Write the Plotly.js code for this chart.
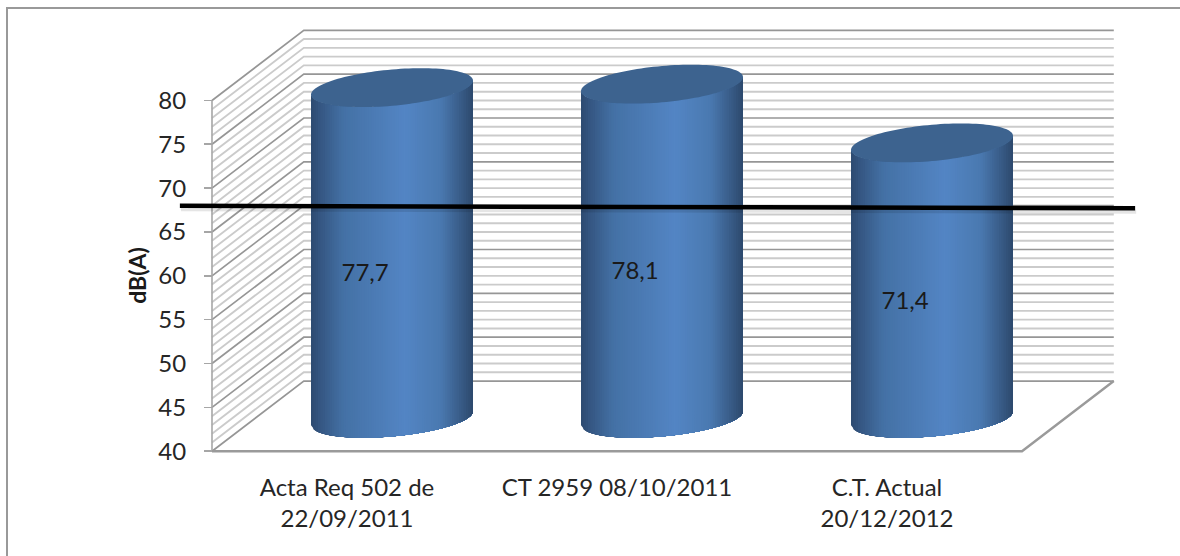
<!DOCTYPE html>
<html><head><meta charset="utf-8">
<script src="https://cdn.plot.ly/plotly-3.0.1.min.js"></script>
<style>
html,body{margin:0;padding:0;background:#fff;overflow:hidden}
#frame{position:absolute;left:6px;top:7px;right:-5px;bottom:-5px;border-left:2.5px solid #999;border-top:2.5px solid #999}
#chart{position:absolute;left:0;top:0;width:1180px;height:556px}
</style></head><body>
<div id="frame"></div><div id="chart"></div>
<script>
const categories = ["Acta Req 502 de<br>22/09/2011", "CT 2959 08/10/2011", "C.T. Actual<br>20/12/2012"];
const values = [77.7, 78.1, 71.4];
const valueLabels = ["77,7", "78,1", "71,4"];
const yTicks = [40, 45, 50, 55, 60, 65, 70, 75, 80];
const limitX = [-0.119, 3.419];
const limitY = [67.98, 67.7];

const FONT = "Lato, 'Open Sans', sans-serif";
const DEPTH_X = 0.34, DEPTH_Y = 8;
const MID_X = 1 / 6, MID_Y = 3.76;
const A = 0.3, SHEAR = 0.8, B = 2.07;
const stops = [[0,[45,74,112]],[0.05,[52,85,128]],[0.2,[68,113,165]],[0.58,[83,133,196]],[0.8,[74,121,176]],[0.94,[54,88,130]],[1,[44,72,108]]];
function shade(f){
  for(let i=1;i<stops.length;i++){
    if(f<=stops[i][0]){
      const p=(f-stops[i-1][0])/(stops[i][0]-stops[i-1][0]);
      const c=stops[i-1][1].map((v,k)=>Math.round(v+(stops[i][1][k]-v)*p));
      return `rgb(${c[0]},${c[1]},${c[2]})`;
    }
  }
  return 'rgb(44,72,108)';
}
const traces=[];
function line(x,y,color,width){
  traces.push({type:'scatter',mode:'lines',x,y,line:{color,width,simplify:false},hoverinfo:'skip',connectgaps:false});
}
// walls
const minorX=[],minorY=[],majorX=[],majorY=[];
const maxX=categories.length;
for(let v=40;v<=80;v++){
  const tx=v%5===0?majorX:minorX, ty=v%5===0?majorY:minorY;
  tx.push(0,DEPTH_X,maxX+DEPTH_X,null);
  ty.push(v,v+DEPTH_Y,v+DEPTH_Y,null);
}
line(minorX,minorY,'#cbcbcb',1.9);
line(majorX,majorY,'#969696',1.7);
line([0,0],[40,80],'#a6a6a6',1.6);
line([0,maxX,maxX+DEPTH_X],[40,40,40+DEPTH_Y],'#9a9a9a',2.4);

// cylinders
const N=70, ARC=40;
values.forEach((val,i)=>{
  const cx=i+0.5+MID_X, topY=val+MID_Y, botY=40+MID_Y;
  for(let s=0;s<N;s++){
    const f0=-1+2*s/N;
    const xs=[],ys=[];
    for(let k=0;k<=ARC;k++){
      const f=f0+(1-f0)*k/ARC;
      xs.push(cx+A*f); ys.push(topY+SHEAR*f-B*Math.sqrt(Math.max(0,1-f*f)));
    }
    for(let k=ARC;k>=0;k--){
      const f=f0+(1-f0)*k/ARC;
      xs.push(cx+A*f); ys.push(botY+SHEAR*f-B*Math.sqrt(Math.max(0,1-f*f)));
    }
    traces.push({type:'scatter',mode:'none',x:xs,y:ys,fill:'toself',fillcolor:shade((s+0.5)/N),hoverinfo:'skip'});
  }
  const ex=[],ey=[];
  for(let k=0;k<=120;k++){
    const t=2*Math.PI*k/120;
    ex.push(cx+A*Math.cos(t)); ey.push(topY+SHEAR*Math.cos(t)+B*Math.sin(t));
  }
  traces.push({type:'scatter',mode:'none',x:ex,y:ey,fill:'toself',fillcolor:'#3d638f',hoverinfo:'skip'});
});

// value labels
traces.push({type:'scatter',mode:'text',
  x:values.map((v,i)=>i+0.5+0.067),
  y:values.map(v=>(40+v)/2+1.25),
  text:valueLabels,textposition:'middle center',
  textfont:{family:FONT,size:24,color:'#1a1a1a'},hoverinfo:'skip',cliponaxis:false});

// limit line with soft shadow
line(limitX.map(v=>v+0.004),limitY.map(v=>v-0.4),'rgba(0,0,0,0.1)',4);
line(limitX,limitY,'#000000',4.5);

// plot box is wider than the axes so the limit line can overhang them
const PX_X=270, PX_Y=8.775, ZERO_PX=212, BASE_PX=451.5;
const L=176,R=1140,T=26,B_PX=460.3;
const xMin=(L-ZERO_PX)/PX_X, xMax=(R-ZERO_PX)/PX_X;
const yMin=40-(B_PX-BASE_PX)/PX_Y, yMax=40+(BASE_PX-T)/PX_Y;

const layout={
  width:1180,height:556,
  margin:{l:L,r:1180-R,t:T,b:556-B_PX,pad:0},
  paper_bgcolor:'rgba(0,0,0,0)',plot_bgcolor:'rgba(0,0,0,0)',
  showlegend:false,hovermode:false,
  xaxis:{range:[xMin,xMax],tickmode:'array',tickvals:categories.map((c,i)=>i+0.5),ticktext:categories,
    anchor:'free',position:(40-yMin)/(yMax-yMin),
    showgrid:false,zeroline:false,showline:false,ticks:'',ticklabelstandoff:20,
    tickfont:{family:FONT,size:24,color:'#262626'}},
  yaxis:{range:[yMin,yMax],tickmode:'array',tickvals:yTicks,ticktext:yTicks.map(String),
    anchor:'free',position:(0-xMin)/(xMax-xMin),
    showgrid:false,zeroline:false,showline:false,ticks:'outside',ticklen:8,tickwidth:1.6,tickcolor:'#a6a6a6',ticklabelstandoff:13,
    tickfont:{family:FONT,size:24,color:'#262626'}},
  annotations:[{text:'<b>dB(A)</b>',xref:'paper',yref:'y',x:(137-L)/(R-L),y:60,xanchor:'center',yanchor:'middle',showarrow:false,textangle:-90,
    font:{family:FONT,size:23,color:'#1a1a1a'}}]
};
Plotly.newPlot('chart',traces,layout,{displayModeBar:false,staticPlot:true});
</script>
</body></html>
